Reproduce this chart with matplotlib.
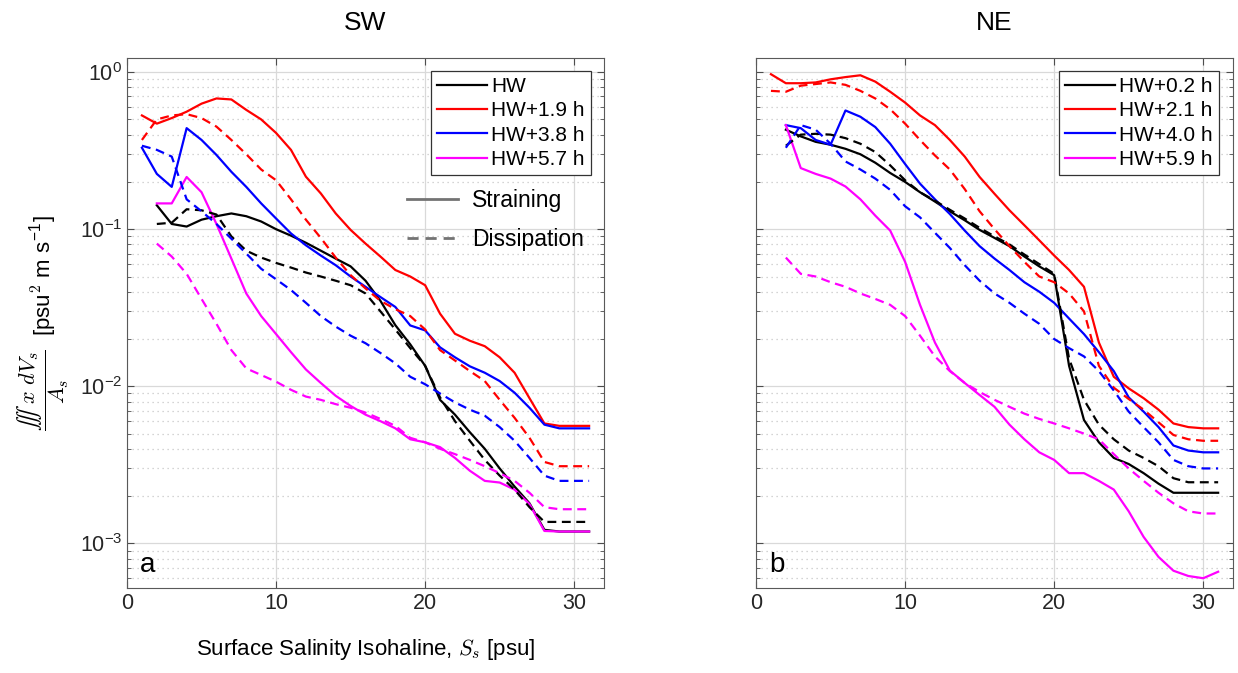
import numpy as np
import matplotlib.pyplot as plt
from matplotlib.lines import Line2D
from matplotlib.ticker import LogLocator, NullFormatter

plt.rcParams['font.family'] = ['Liberation Sans', 'DejaVu Sans']
plt.rcParams['mathtext.fontset'] = 'cm'

# salinity classes (psu)
sal_1 = [1, 2, 3, 4, 5, 6, 7, 8, 9, 10, 11, 12, 13, 14, 15, 16,
         17, 18, 19, 20, 21, 22, 23, 24, 25, 26, 27, 28, 29, 30, 31]
sal_2 = [2, 3, 4, 5, 6, 7, 8, 9, 10, 11, 12, 13, 14, 15, 16,
         17, 18, 19, 20, 21, 22, 23, 24, 25, 26, 27, 28, 29, 30, 31]

# ---- panel a (SW) ----
sw_labels = ['HW', 'HW+1.9 h', 'HW+3.8 h', 'HW+5.7 h']
sw_strain_hw = [0.142, 0.108, 0.104, 0.115, 0.121, 0.126, 0.121, 0.112, 0.100, 0.091,
                0.082, 0.073, 0.065, 0.058, 0.047, 0.035, 0.0245, 0.0185, 0.0135, 0.0082,
                0.0066, 0.0051, 0.0040, 0.0030, 0.0023, 0.0018, 0.00122, 0.00119, 0.00119, 0.00119]
sw_strain_19 = [0.53, 0.47, 0.51, 0.56, 0.63, 0.68, 0.67, 0.575, 0.50, 0.41, 0.32, 0.216,
                0.169, 0.126, 0.099, 0.081, 0.067, 0.055, 0.050, 0.044, 0.029, 0.0216,
                0.0195, 0.018, 0.0153, 0.0122, 0.0084, 0.0058, 0.0056, 0.0056, 0.0056]
sw_strain_38 = [0.33, 0.225, 0.186, 0.44, 0.37, 0.297, 0.232, 0.186, 0.146, 0.117, 0.094,
                0.079, 0.068, 0.059, 0.050, 0.043, 0.037, 0.032, 0.0244, 0.0227, 0.0177,
                0.0153, 0.0134, 0.0122, 0.0108, 0.0091, 0.0073, 0.0057, 0.0054, 0.0054, 0.0054]
sw_strain_57 = [0.146, 0.146, 0.215, 0.172, 0.108, 0.065, 0.039, 0.028, 0.0215, 0.0165,
                0.0128, 0.0105, 0.0087, 0.0075, 0.0066, 0.0060, 0.0054, 0.0046, 0.0044, 0.0041,
                0.0035, 0.0029, 0.0025, 0.00244, 0.0022, 0.00178, 0.0012, 0.00119, 0.00119, 0.00119]
sw_diss_hw = [0.108, 0.11, 0.134, 0.132, 0.124, 0.09, 0.073, 0.066, 0.061, 0.057, 0.053,
              0.050, 0.047, 0.044, 0.039, 0.030, 0.023, 0.0175, 0.0135, 0.0085, 0.0060,
              0.0045, 0.0034, 0.0027, 0.0022, 0.0017, 0.00137, 0.00137, 0.00137, 0.00137]
sw_diss_19 = [0.37, 0.50, 0.53, 0.54, 0.51, 0.45, 0.37, 0.30, 0.24, 0.205, 0.155, 0.115,
              0.088, 0.066, 0.051, 0.042, 0.035, 0.031, 0.028, 0.023, 0.017, 0.0146,
              0.0125, 0.0108, 0.0082, 0.0063, 0.0047, 0.0033, 0.0031, 0.0031, 0.0031]
sw_diss_38 = [0.34, 0.32, 0.29, 0.155, 0.13, 0.108, 0.087, 0.070, 0.056, 0.048, 0.041,
              0.034, 0.028, 0.0240, 0.0210, 0.0188, 0.0163, 0.0140, 0.0115, 0.0103, 0.0090,
              0.0079, 0.0071, 0.0065, 0.0055, 0.0045, 0.0035, 0.0027, 0.0025, 0.0025, 0.0025]
sw_diss_57 = [0.081, 0.067, 0.052, 0.036, 0.025, 0.017, 0.013, 0.0118, 0.0107, 0.0095,
              0.0086, 0.0082, 0.0077, 0.0073, 0.0068, 0.0062, 0.0056, 0.0047, 0.0044, 0.0040,
              0.0037, 0.0034, 0.0031, 0.0028, 0.0025, 0.0021, 0.0017, 0.00165, 0.00165, 0.00165]

# ---- panel b (NE) ----
ne_labels = ['HW+0.2 h', 'HW+2.1 h', 'HW+4.0 h', 'HW+5.9 h']
ne_strain_02 = [0.43, 0.39, 0.36, 0.345, 0.325, 0.30, 0.265, 0.228, 0.20, 0.172, 0.150,
                0.130, 0.114, 0.099, 0.088, 0.078, 0.067, 0.058, 0.051, 0.0135, 0.0061,
                0.0044, 0.0035, 0.0032, 0.0028, 0.0024, 0.0021, 0.0021, 0.0021, 0.0021]
ne_strain_21 = [0.97, 0.85, 0.85, 0.86, 0.90, 0.93, 0.955, 0.87, 0.75, 0.64, 0.53, 0.46,
                0.37, 0.29, 0.215, 0.168, 0.132, 0.106, 0.085, 0.068, 0.055, 0.043, 0.019,
                0.0115, 0.0097, 0.0084, 0.0071, 0.0058, 0.0055, 0.0054, 0.0054]
ne_strain_40 = [0.46, 0.44, 0.37, 0.345, 0.57, 0.52, 0.447, 0.35, 0.26, 0.195, 0.155, 0.125,
                0.098, 0.078, 0.065, 0.055, 0.046, 0.040, 0.034, 0.027, 0.0215, 0.0165,
                0.0125, 0.0085, 0.0069, 0.0055, 0.0042, 0.0039, 0.0038, 0.0038]
ne_strain_59 = [0.46, 0.245, 0.225, 0.21, 0.187, 0.155, 0.122, 0.098, 0.062, 0.033, 0.019,
                0.0126, 0.0105, 0.0088, 0.0074, 0.0057, 0.0046, 0.0038, 0.0034, 0.0028,
                0.0028, 0.0025, 0.0022, 0.0016, 0.0011, 0.00082, 0.00067, 0.00062, 0.0006, 0.00066]
ne_diss_02 = [0.34, 0.40, 0.405, 0.40, 0.38, 0.35, 0.31, 0.255, 0.205, 0.172, 0.152, 0.133,
              0.117, 0.102, 0.090, 0.080, 0.069, 0.060, 0.052, 0.0150, 0.0082, 0.0057,
              0.0046, 0.0039, 0.0035, 0.0031, 0.0026, 0.00245, 0.00245, 0.00245]
ne_diss_21 = [0.76, 0.75, 0.82, 0.84, 0.86, 0.83, 0.76, 0.68, 0.58, 0.47, 0.37, 0.295, 0.24,
              0.18, 0.13, 0.10, 0.078, 0.062, 0.050, 0.046, 0.039, 0.030, 0.0135, 0.0098,
              0.0083, 0.0071, 0.0059, 0.0049, 0.0046, 0.0045, 0.0045]
ne_diss_40 = [0.33, 0.46, 0.43, 0.35, 0.27, 0.24, 0.21, 0.178, 0.14, 0.119, 0.095, 0.076,
              0.059, 0.047, 0.039, 0.034, 0.029, 0.025, 0.020, 0.0175, 0.0155, 0.0125,
              0.0094, 0.0069, 0.0055, 0.0044, 0.0034, 0.0031, 0.0030, 0.0030]
ne_diss_59 = [0.066, 0.052, 0.050, 0.046, 0.043, 0.039, 0.036, 0.033, 0.028, 0.021, 0.0155,
              0.0125, 0.0105, 0.0092, 0.0082, 0.0074, 0.0067, 0.0062, 0.0058, 0.0054, 0.0050,
              0.0046, 0.0037, 0.0030, 0.0025, 0.0021, 0.0018, 0.0016, 0.00155, 0.00155]

colors = ['#000000', '#ff0000', '#0000ff', '#ff00ff']
dash = (0, (4, 2.5))

fig = plt.figure(figsize=(12.38, 6.73), dpi=100)
ax_a = fig.add_axes([0.1026, 0.1263, 0.3853, 0.7875])
ax_b = fig.add_axes([0.6107, 0.1263, 0.3853, 0.7875])


def style(ax):
    ax.set_yscale('log')
    ax.set_xlim(0, 32)
    ax.set_ylim(5.2e-4, 1.23)
    ax.set_xticks([0, 10, 20, 30])
    ax.yaxis.set_major_locator(LogLocator(base=10, numticks=10))
    ax.yaxis.set_minor_locator(LogLocator(base=10, subs=np.arange(2, 10), numticks=10))
    ax.yaxis.set_minor_formatter(NullFormatter())
    ax.set_axisbelow(True)
    ax.grid(which='major', color='0.85', lw=0.9, ls='-')
    ax.grid(which='minor', axis='y', color='0.78', lw=0.9, ls=(0, (1, 3)))
    ax.tick_params(which='both', direction='in', top=True, right=True,
                   labelsize=15.5, colors='0.3', labelcolor='0.15')
    ax.tick_params(which='major', length=5)
    ax.tick_params(which='minor', length=3)
    for sp in ax.spines.values():
        sp.set_color('0.35')


# panel a
style(ax_a)
lines_a = []
for xs, ys, c in zip([sal_2, sal_1, sal_1, sal_2],
                     [sw_strain_hw, sw_strain_19, sw_strain_38, sw_strain_57], colors):
    lines_a.append(ax_a.plot(xs, ys, color=c, lw=1.6)[0])
for xs, ys, c in zip([sal_2, sal_1, sal_1, sal_2],
                     [sw_diss_hw, sw_diss_19, sw_diss_38, sw_diss_57], colors):
    ax_a.plot(xs, ys, color=c, lw=1.6, ls=dash)

leg1 = ax_a.legend(lines_a, sw_labels, loc='upper right',
                   bbox_to_anchor=(1 - 13 / 477, 1 - 13 / 530), borderaxespad=0,
                   fontsize=15, frameon=True, fancybox=False, framealpha=1,
                   edgecolor='0.2', handlelength=2.4, handletextpad=0.2,
                   labelspacing=0.25, borderpad=0.3)
leg1.get_frame().set_linewidth(0.9)
ax_a.add_artist(leg1)
style_handles = [Line2D([], [], color='0.45', lw=2),
                 Line2D([], [], color='0.45', lw=2, ls=dash)]
ax_a.legend(style_handles, ['Straining', 'Dissipation'], loc='upper left',
            bbox_to_anchor=(0.588, 0.752), borderaxespad=0, borderpad=0,
            fontsize=16.5, frameon=False, handlelength=2.2, handletextpad=0.6,
            labelspacing=0.68)

ax_a.set_title('SW', fontsize=19, pad=20)
ax_a.set_xlabel('Surface Salinity Isohaline, $S_s$ [psu]', fontsize=16, labelpad=17)
ax_a.set_ylabel(r'$\dfrac{\iiint\ x\ dV_s}{A_s}$  [psu$^2$ m s$^{\mathdefault{-1}}$]',
                fontsize=16, labelpad=6)
ax_a.text(0.027, 0.03, 'a', transform=ax_a.transAxes, fontsize=20, color='k')

# panel b
style(ax_b)
ax_b.tick_params(labelleft=False)
lines_b = []
for xs, ys, c in zip([sal_2, sal_1, sal_2, sal_2],
                     [ne_strain_02, ne_strain_21, ne_strain_40, ne_strain_59], colors):
    lines_b.append(ax_b.plot(xs, ys, color=c, lw=1.6)[0])
for xs, ys, c in zip([sal_2, sal_1, sal_2, sal_2],
                     [ne_diss_02, ne_diss_21, ne_diss_40, ne_diss_59], colors):
    ax_b.plot(xs, ys, color=c, lw=1.6, ls=dash)

leg2 = ax_b.legend(lines_b, ne_labels, loc='upper right',
                   bbox_to_anchor=(1 - 14 / 477, 1 - 13 / 530), borderaxespad=0,
                   fontsize=15, frameon=True, fancybox=False, framealpha=1,
                   edgecolor='0.2', handlelength=2.4, handletextpad=0.2,
                   labelspacing=0.25, borderpad=0.3)
leg2.get_frame().set_linewidth(0.9)
ax_b.set_title('NE', fontsize=19, pad=20)
ax_b.text(0.027, 0.03, 'b', transform=ax_b.transAxes, fontsize=20, color='k')

fig.savefig('out.png', dpi=100)
